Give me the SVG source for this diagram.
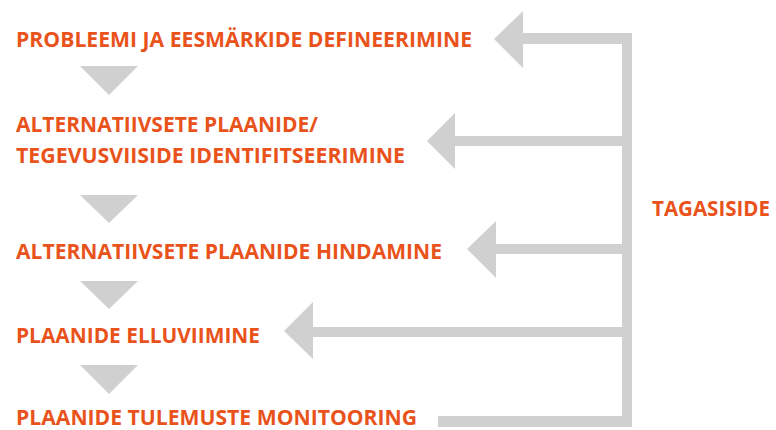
<svg xmlns="http://www.w3.org/2000/svg" width="776" height="430" viewBox="0 0 776 430">
<style>
.t{font-family:"Open Sans","Noto Sans","Liberation Sans",sans-serif;font-weight:bold;font-size:20.5px;fill:#E9531B}
.c{fill:#D0D0D0}
</style>
<rect width="776" height="430" fill="#FFFFFF"/>
<g id="connectors">
<polygon class="c" points="80,66 138,66 109,95"/>
<polygon class="c" points="80,195 138,195 109,223"/>
<polygon class="c" points="80,281 138,281 109,309"/>
<polygon class="c" points="80,365 138,365 109,394"/>
<rect class="c" x="622" y="33" width="10" height="394"/>
<rect class="c" x="522" y="33" width="110" height="11"/>
<polygon class="c" points="494,39 523,11 523,68"/>
<rect class="c" x="454" y="136" width="178" height="10"/>
<polygon class="c" points="427,141 455,113 455,169"/>
<rect class="c" x="495" y="244" width="137" height="10"/>
<polygon class="c" points="467,249 496,221 496,278"/>
<rect class="c" x="312" y="327" width="320" height="10"/>
<polygon class="c" points="284,331 313,302 313,359"/>
<rect class="c" x="438" y="416" width="194" height="11"/>
</g>
<g id="n1"><text class="t" x="16" y="46.5" textLength="456" lengthAdjust="spacingAndGlyphs">PROBLEEMI JA EESMÄRKIDE DEFINEERIMINE</text></g>
<g id="n2"><text class="t" x="16" y="132.3" textLength="302" lengthAdjust="spacingAndGlyphs">ALTERNATIIVSETE PLAANIDE/</text><text class="t" x="16" y="163.3" textLength="389" lengthAdjust="spacingAndGlyphs">TEGEVUSVIISIDE IDENTIFITSEERIMINE</text></g>
<g id="n3"><text class="t" x="16" y="258.5" textLength="426" lengthAdjust="spacingAndGlyphs">ALTERNATIIVSETE PLAANIDE HINDAMINE</text></g>
<g id="n4"><text class="t" x="16" y="343" textLength="244" lengthAdjust="spacingAndGlyphs">PLAANIDE ELLUVIIMINE</text></g>
<g id="n5"><text class="t" x="16" y="424.5" textLength="401" lengthAdjust="spacingAndGlyphs">PLAANIDE TULEMUSTE MONITOORING</text></g>
<g id="label"><text class="t" x="652" y="216" textLength="118" lengthAdjust="spacingAndGlyphs">TAGASISIDE</text></g>
</svg>
